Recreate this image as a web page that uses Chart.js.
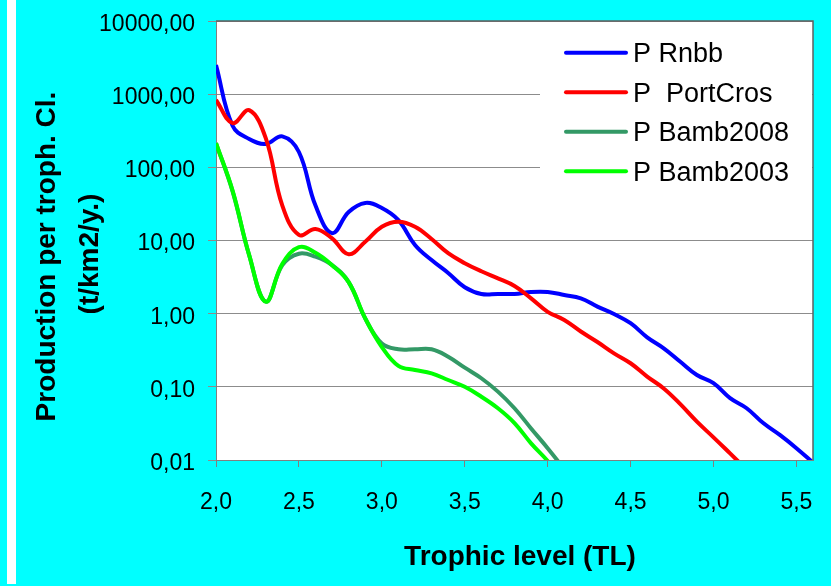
<!DOCTYPE html>
<html>
<head>
<meta charset="utf-8">
<script src="https://cdn.jsdelivr.net/npm/chart.js@4.4.1/dist/chart.umd.min.js"></script>
<style>
html,body{margin:0;padding:0;background:#00FFFF;overflow:hidden}
#wrap{width:831px;height:586px;position:relative}
canvas{display:block}
</style>
</head>
<body>
<div id="wrap"><canvas id="c" width="831" height="586"></canvas></div>
<script>
// ---- data ----
const trophicLevels = [2.0,2.1,2.2,2.3,2.4,2.5,2.6,2.7,2.8,2.9,3.0,3.1,3.2,3.3,3.4,3.5,3.6,3.7,3.8,3.9,4.0,4.1,4.2,4.3,4.4,4.5,4.6,4.7,4.8,4.9,5.0,5.1,5.2,5.3,5.4,5.5,5.6];
const pRnbb = [2500,370,244,209,265,162,30,12.6,24.5,32.6,27.8,19,8.7,5.4,3.6,2.3,1.86,1.86,1.86,1.98,1.98,1.8,1.62,1.25,0.99,0.74,0.475,0.336,0.22,0.145,0.112,0.07,0.051,0.032,0.022,0.0145,0.0092];
const pPortCros = [832,403,605,250,30,11.9,14.4,10.7,6.5,9.6,15.4,18,15.4,10.5,6.7,4.9,3.8,3.04,2.39,1.62,1.06,0.82,0.57,0.41,0.287,0.21,0.138,0.095,0.058,0.0334,0.0204,0.0123,0.0074,null,null,null,null];
const pBamb2008 = [214,47,6.3,1.46,4.6,6.6,6.0,4.6,2.7,0.86,0.39,0.326,0.326,0.326,0.258,0.183,0.131,0.086,0.051,0.027,0.0145,0.0075,null,null,null,null,null,null,null,null,null,null,null,null,null,null,null];
const pBamb2003 = [214,48,6.3,1.46,4.8,8.1,6.8,4.6,2.7,0.86,0.35,0.193,0.17,0.153,0.124,0.1,0.0733,0.051,0.032,0.0169,0.0097,0.005,null,null,null,null,null,null,null,null,null,null,null,null,null,null,null];
const seriesNames = ["P Rnbb","P  PortCros","P Bamb2008","P Bamb2003"];
const seriesColors = ["#0000FF","#FF0000","#339966","#00FF00"];
const xTickValues = [2.0,2.5,3.0,3.5,4.0,4.5,5.0,5.5];
const xTickLabels = ["2,0","2,5","3,0","3,5","4,0","4,5","5,0","5,5"];
const yTickValues = [0.01,0.1,1,10,100,1000,10000];
const yTickLabels = ["0,01","0,10","1,00","10,00","100,00","1000,00","10000,00"];
const xTitle = "Trophic level (TL)";
const yTitleLines = ["Production per troph. Cl.","(t/km2/y.)"];

const FAMILY = "'Liberation Sans', Arial, sans-serif";
Chart.defaults.font.family = FAMILY;

function toPoints(vals){
  return trophicLevels.map((x,i)=>({x:x, y:vals[i]})).filter(p=>p.y!==null);
}
const allSeries = [pRnbb,pPortCros,pBamb2008,pBamb2003];

const decor = {
  id:'decor',
  beforeDraw(chart){
    const {ctx, chartArea:a, width, height} = chart;
    ctx.save();
    ctx.fillStyle='#00FFFF'; ctx.fillRect(0,0,width,height);
    ctx.fillStyle='#FFFFFF'; ctx.fillRect(7,0,9,height-2);
    ctx.fillRect(a.left,a.top,a.right-a.left,a.bottom-a.top);
    ctx.restore();
  },
  beforeDatasetsDraw(chart){
    const {ctx, chartArea:a} = chart;
    ctx.save();
    ctx.fillStyle='#FFFFFF';
    ctx.fillRect(540, a.top+1, a.right-540-1, 175);
    chart.data.datasets.forEach((ds,i)=>{
      const y = 52.7 + i*39.5;
      ctx.strokeStyle = ds.borderColor;
      ctx.lineWidth = 4;
      ctx.lineCap='round';
      ctx.beginPath(); ctx.moveTo(566,y); ctx.lineTo(626,y); ctx.stroke();
      ctx.fillStyle='#000';
      ctx.font = "27px " + FAMILY;
      ctx.textAlign='left'; ctx.textBaseline='middle';
      ctx.fillText(ds.label, 633, y+2);
    });
    ctx.restore();
  },
  afterDraw(chart){
    const {ctx, chartArea:a} = chart;
    ctx.save();
    ctx.strokeStyle='#606060'; ctx.lineWidth=1.5;
    ctx.beginPath();
    ctx.moveTo(a.left, a.top); ctx.lineTo(a.right, a.top); ctx.lineTo(a.right, a.bottom);
    ctx.stroke();
    ctx.fillStyle='#000';
    ctx.font = "bold 28px " + FAMILY;
    ctx.textAlign='center'; ctx.textBaseline='alphabetic';
    ctx.fillText(xTitle, 520, 565);
    const yPos = [[55,256.5],[98,254]];
    yTitleLines.forEach((t,i)=>{
      ctx.save();
      ctx.translate(yPos[i][0], yPos[i][1]);
      ctx.rotate(-Math.PI/2);
      ctx.fillText(t,0,0);
      ctx.restore();
    });
    ctx.restore();
  }
};

new Chart(document.getElementById('c'), {
  type:'line',
  data:{
    datasets: allSeries.map((vals,i)=>({
      label: seriesNames[i],
      data: toPoints(vals),
      borderColor: seriesColors[i],
      backgroundColor: seriesColors[i],
      borderWidth: 4,
      pointRadius: 0,
      tension: 0.4,
      fill: false,
      order: 4-i
    }))
  },
  options:{
    responsive:false,
    animation:false,
    devicePixelRatio:1,
    layout:{padding:{top:21,right:18,left:0,bottom:0}},
    plugins:{legend:{display:false}, tooltip:{enabled:false}, title:{display:false}},
    scales:{
      x:{
        type:'linear', min:2, max:5.6,
        afterBuildTicks: s=>{ s.ticks = xTickValues.map(v=>({value:v})); },
        afterFit: s=>{ s.height = 126; s.paddingLeft = 0; s.paddingRight = 0; },
        ticks:{ callback:(v,i)=>xTickLabels[i], font:{size:23}, color:'#000', padding:22, maxRotation:0, autoSkip:false },
        grid:{ drawOnChartArea:false, color:'#808080', tickLength:7 },
        border:{ color:'#808080', width:1 }
      },
      y:{
        type:'logarithmic', min:0.01, max:10000,
        afterBuildTicks: s=>{ s.ticks = yTickValues.map(v=>({value:v})); },
        afterFit: s=>{ s.width = 216; s.paddingTop = 0; s.paddingBottom = 0; },
        ticks:{ callback:(v,i)=>yTickLabels[i], font:{size:23}, color:'#000', padding:13, labelOffset:3.5, autoSkip:false },
        grid:{ color:'#8c8c8c', lineWidth:1, tickLength:8 },
        border:{ color:'#808080', width:1 }
      }
    }
  },
  plugins:[decor]
});
</script>
</body>
</html>
